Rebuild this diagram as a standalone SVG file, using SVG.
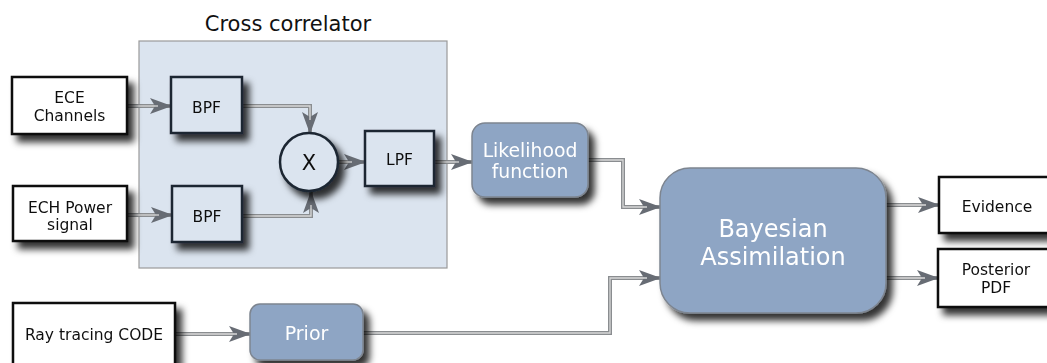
<svg xmlns="http://www.w3.org/2000/svg" width="1047" height="363" viewBox="0 0 1047 363">
  <defs>
    <filter id="shadow" x="-20%" y="-20%" width="150%" height="160%">
      <feDropShadow dx="6" dy="7" stdDeviation="3.5" flood-color="#000" flood-opacity="0.8"/>
    </filter>
    <marker id="arrow" viewBox="0 0 22 16" refX="21" refY="8" markerWidth="22" markerHeight="16" markerUnits="userSpaceOnUse" orient="auto">
      <path d="M0,0 L22,8 L0,16 L5,8 Z" fill="#676c74"/>
    </marker>
    <style>
      .plain { fill: #ffffff; stroke: #111; stroke-width: 2.5; }
      .inner { fill: #dbe4ef; stroke: #1c2733; stroke-width: 2.5; }
      .soft { fill: #8ea5c4; stroke: #7d8590; stroke-width: 1.5; }
      .lbl { font-family: "DejaVu Sans", Verdana, sans-serif; font-size: 15.5px; fill: #111; text-anchor: middle; }
      .wlbl { font-family: "DejaVu Sans", Verdana, sans-serif; fill: #ffffff; text-anchor: middle; }
      .wire { fill: none; stroke: #8a8d90; stroke-width: 4; }
      .core { fill: none; stroke: #d8d8d8; stroke-width: 1.3; }
    </style>
  </defs>

  <!-- cross correlator panel -->
  <g id="cross-correlator">
    <rect x="139" y="41" width="308" height="227" fill="#dbe4ef" stroke="#9a9a9a" stroke-width="1.2"/>
    <text x="288" y="31" font-family="DejaVu Sans, Verdana, sans-serif" font-size="21" fill="#111" text-anchor="middle">Cross correlator</text>
  </g>

  <!-- connectors -->
  <g id="connectors">
    <g class="wires">
      <path class="wire" d="M127,106 H171" marker-end="url(#arrow)"/>
      <path class="wire" d="M127,215 H172" marker-end="url(#arrow)"/>
      <path class="wire" d="M242,106 H310 V133" marker-end="url(#arrow)"/>
      <path class="wire" d="M242,216 H311 V192" marker-end="url(#arrow)"/>
      <path class="wire" d="M338,162 H365" marker-end="url(#arrow)"/>
      <path class="wire" d="M434,162 H472" marker-end="url(#arrow)"/>
      <path class="wire" d="M588,160 H623 V207 H660" marker-end="url(#arrow)"/>
      <path class="wire" d="M175,334 H250" marker-end="url(#arrow)"/>
      <path class="wire" d="M363,333 H610 V278 H660" marker-end="url(#arrow)"/>
      <path class="wire" d="M886,205 H939" marker-end="url(#arrow)"/>
      <path class="wire" d="M886,278 H938" marker-end="url(#arrow)"/>
    </g>
    <g class="cores">
      <path class="core" d="M127,106 H158"/>
      <path class="core" d="M127,215 H159"/>
      <path class="core" d="M242,106 H310 V120"/>
      <path class="core" d="M242,216 H311 V205"/>
      <path class="core" d="M338,162 H352"/>
      <path class="core" d="M434,162 H459"/>
      <path class="core" d="M588,160 H623 V207 H647"/>
      <path class="core" d="M175,334 H237"/>
      <path class="core" d="M363,333 H610 V278 H647"/>
      <path class="core" d="M886,205 H926"/>
      <path class="core" d="M886,278 H925"/>
    </g>
  </g>

  <g id="ece-channels" filter="url(#shadow)">
    <rect class="plain" x="12" y="77" width="115" height="57"/>
    <text class="lbl" x="69.5" y="103">ECE</text>
    <text class="lbl" x="69.5" y="121">Channels</text>
  </g>

  <g id="ech-power" filter="url(#shadow)">
    <rect class="plain" x="13" y="186" width="114" height="55"/>
    <text class="lbl" x="70" y="213">ECH Power</text>
    <text class="lbl" x="70" y="230">signal</text>
  </g>

  <g id="bpf-top" filter="url(#shadow)">
    <rect class="inner" x="171" y="77" width="71" height="56"/>
    <text class="lbl" x="206.5" y="113">BPF</text>
  </g>

  <g id="bpf-bottom" filter="url(#shadow)">
    <rect class="inner" x="172" y="186" width="70" height="56"/>
    <text class="lbl" x="207" y="222">BPF</text>
  </g>

  <g id="multiplier" filter="url(#shadow)">
    <ellipse class="inner" cx="309" cy="162" rx="29" ry="29"/>
    <text x="309" y="170" font-family="DejaVu Sans, Verdana, sans-serif" font-size="21" fill="#111" text-anchor="middle">X</text>
  </g>

  <g id="lpf" filter="url(#shadow)">
    <rect class="inner" x="365" y="131" width="69" height="55"/>
    <text class="lbl" x="399.5" y="165">LPF</text>
  </g>

  <g id="likelihood" filter="url(#shadow)">
    <rect class="soft" x="472" y="123" width="116" height="74" rx="13"/>
    <text class="wlbl" x="530" y="157" font-size="18.8">Likelihood</text>
    <text class="wlbl" x="530" y="178" font-size="18.8">function</text>
  </g>

  <g id="bayesian" filter="url(#shadow)">
    <rect class="soft" x="660" y="168" width="226" height="145" rx="30"/>
    <text class="wlbl" x="773" y="237" font-size="24">Bayesian</text>
    <text class="wlbl" x="773" y="265" font-size="24">Assimilation</text>
  </g>

  <g id="evidence" filter="url(#shadow)">
    <rect class="plain" x="939" y="177" width="115" height="56"/>
    <text class="lbl" x="997" y="212">Evidence</text>
  </g>

  <g id="posterior" filter="url(#shadow)">
    <rect class="plain" x="938" y="249" width="115" height="58"/>
    <text class="lbl" x="996" y="275">Posterior</text>
    <text class="lbl" x="996" y="293">PDF</text>
  </g>

  <g id="ray-tracing" filter="url(#shadow)">
    <rect class="plain" x="13" y="303" width="162" height="62"/>
    <text class="lbl" x="94" y="340">Ray tracing CODE</text>
  </g>

  <g id="prior" filter="url(#shadow)">
    <rect class="soft" x="250" y="304" width="113" height="56" rx="10"/>
    <text class="wlbl" x="306.5" y="340" font-size="19">Prior</text>
  </g>
</svg>
